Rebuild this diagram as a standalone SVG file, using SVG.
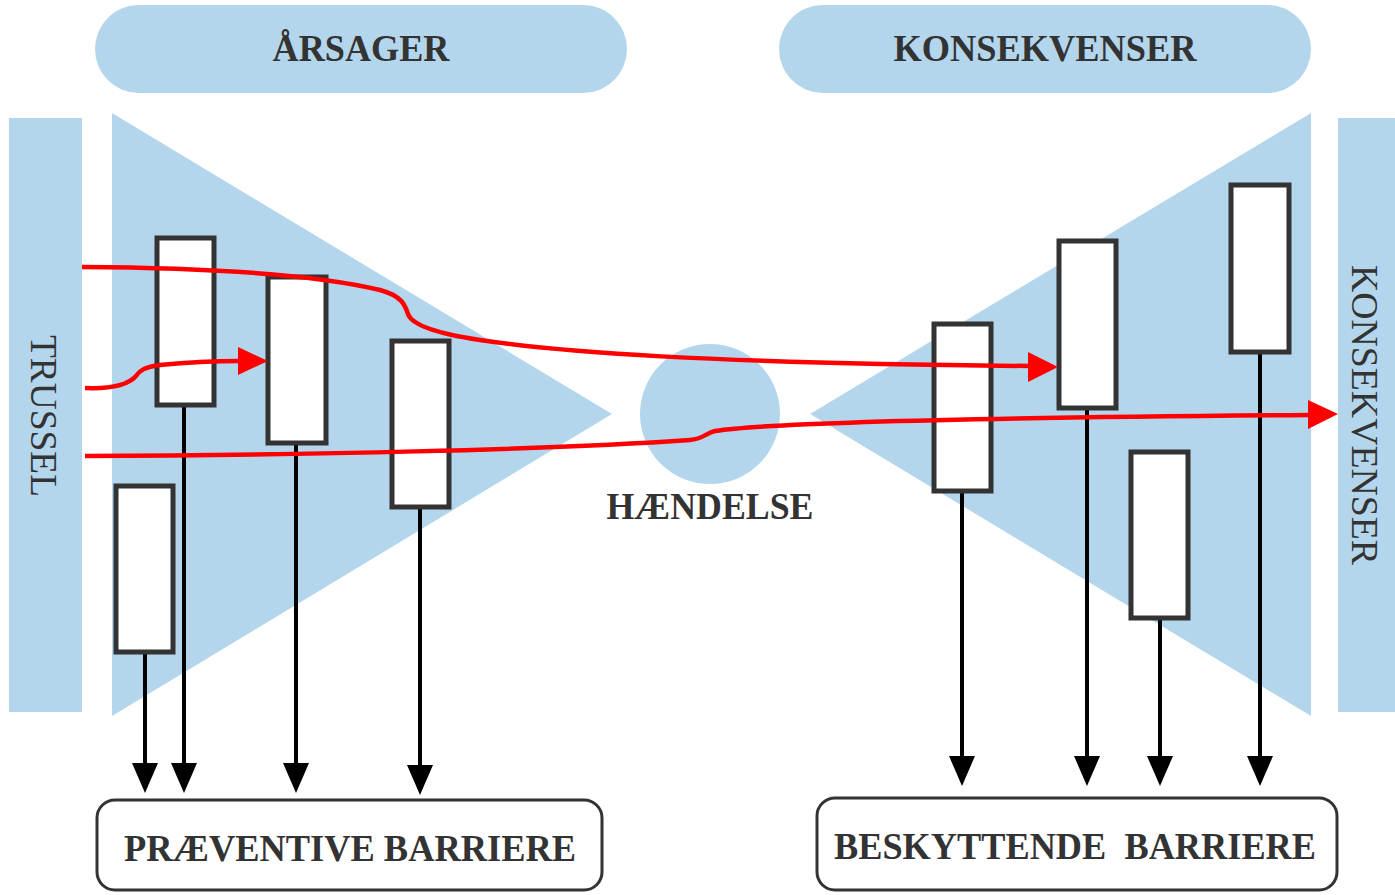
<svg xmlns="http://www.w3.org/2000/svg" width="1395" height="895" viewBox="0 0 1395 895">
<style>
.bg{fill:#b4d6ed}
.t{font-family:"Liberation Serif","Times New Roman",serif;font-weight:bold;fill:#333;text-anchor:middle}
.tv{font-family:"Liberation Serif","Times New Roman",serif;font-weight:normal;fill:#333;text-anchor:middle}
.bar{fill:#fff;stroke:#333;stroke-width:5}
.blk{stroke:#000;stroke-width:4;fill:none}
.red{stroke:#f00;stroke-width:4.5;fill:none}
.box{fill:#fff;stroke:#333;stroke-width:3}
</style>
<g id="bg-shapes">
<rect class="bg" x="95" y="5" width="532" height="88" rx="44" ry="44"/>
<rect class="bg" x="779" y="5" width="532" height="88" rx="44" ry="44"/>
<rect class="bg" x="9" y="118" width="73" height="594"/>
<rect class="bg" x="1338" y="118" width="57" height="594"/>
<polygon class="bg" points="112,113 112,716 612,414"/>
<polygon class="bg" points="1311,113 1311,716 810,414"/>
<circle class="bg" cx="710" cy="414" r="70"/>
</g>
<g id="labels">
<text class="t" x="361" y="61" font-size="38" textLength="177" lengthAdjust="spacingAndGlyphs">ÅRSAGER</text>
<text class="t" x="1045" y="61" font-size="38" textLength="303" lengthAdjust="spacingAndGlyphs">KONSEKVENSER</text>
<text class="t" x="710" y="519" font-size="38" textLength="207" lengthAdjust="spacingAndGlyphs">HÆNDELSE</text>
<text class="tv" transform="translate(31,416) rotate(90)" font-size="37" textLength="162" lengthAdjust="spacingAndGlyphs">TRUSSEL</text>
<text class="tv" transform="translate(1352,415) rotate(90)" font-size="37" textLength="300" lengthAdjust="spacingAndGlyphs">KONSEKVENSER</text>
</g>
<g id="connectors">
<line class="blk" x1="145" y1="652" x2="145" y2="763"/>
<polygon points="132,763 158,763 145,793" fill="#000"/>
<line class="blk" x1="184" y1="405" x2="184" y2="763"/>
<polygon points="171,763 197,763 184,793" fill="#000"/>
<line class="blk" x1="296" y1="443" x2="296" y2="763"/>
<polygon points="283,763 309,763 296,793" fill="#000"/>
<line class="blk" x1="420" y1="507" x2="420" y2="765"/>
<polygon points="407,765 433,765 420,795" fill="#000"/>
<line class="blk" x1="962" y1="491" x2="962" y2="756"/>
<polygon points="949,756 975,756 962,786" fill="#000"/>
<line class="blk" x1="1087" y1="408" x2="1087" y2="756"/>
<polygon points="1074,756 1100,756 1087,786" fill="#000"/>
<line class="blk" x1="1160" y1="618" x2="1160" y2="756"/>
<polygon points="1147,756 1173,756 1160,786" fill="#000"/>
<line class="blk" x1="1260" y1="352" x2="1260" y2="756"/>
<polygon points="1247,756 1273,756 1260,786" fill="#000"/>
</g>
<g id="barriers">
<g id="b1"><rect class="bar" x="157" y="238" width="57" height="167"/></g>
<g id="b2"><rect class="bar" x="268" y="277" width="58" height="166"/></g>
<g id="b3"><rect class="bar" x="392" y="341" width="57" height="166"/></g>
<g id="b4"><rect class="bar" x="116" y="486" width="57" height="166"/></g>
<g id="r1"><rect class="bar" x="934" y="324" width="57" height="167"/></g>
<g id="r2"><rect class="bar" x="1059" y="241" width="57" height="167"/></g>
<g id="r3"><rect class="bar" x="1231" y="185" width="58" height="167"/></g>
<g id="r4"><rect class="bar" x="1131" y="452" width="57" height="166"/></g>
</g>
<g id="threats">
<path class="red" d="M82,267 C240,268 330,278 380,290 C402,296 405,305 408,314 C412,326 440,334 480,340 C560,352 700,363 1030,366"/>
<polygon points="1028,352 1058,367 1028,382" fill="#f00"/>
<path class="red" d="M85,388 C110,389 128,385 136,376 C140,370 145,367 160,365 C190,362 215,361 240,361"/>
<polygon points="238,347 268,361 238,375" fill="#f00"/>
<path class="red" d="M85,456 C300,455 550,450 690,440 C703,439 706,433 715,431 C760,424 900,418 1310,415"/>
<polygon points="1308,400 1338,414 1308,429" fill="#f00"/>
</g>
<g id="preventive">
<rect class="box" x="97" y="800" width="505" height="90" rx="18" ry="18"/>
<text class="t" x="350" y="861" font-size="38" textLength="452" lengthAdjust="spacingAndGlyphs">PRÆVENTIVE BARRIERE</text>
</g>
<g id="protective">
<rect class="box" x="817" y="798" width="520" height="92" rx="18" ry="18"/>
<text class="t" x="1075" y="859" font-size="38" textLength="482" lengthAdjust="spacingAndGlyphs" style="white-space:pre">BESKYTTENDE  BARRIERE</text>
</g>
</svg>
